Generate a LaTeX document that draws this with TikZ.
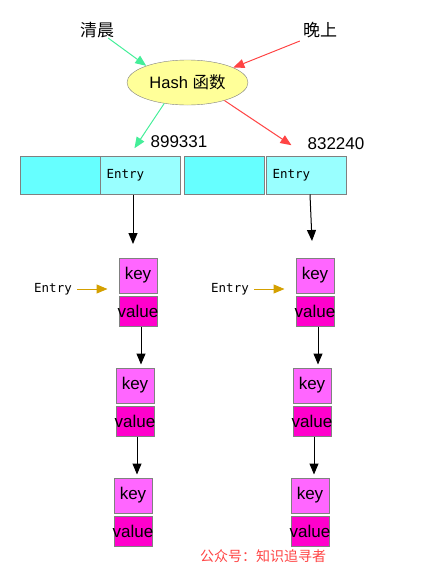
\documentclass[tikz,border=0pt]{standalone}
\usepackage{fontspec}
\setmainfont{Liberation Sans}
\setmonofont{DejaVu Sans Mono}
\newfontfamily\cjk{Noto Sans CJK SC}
\usetikzlibrary{shapes.geometric, arrows.meta, positioning}
\definecolor{slotcyan}{HTML}{66FFFF}
\definecolor{entrycyan}{HTML}{99FFFF}
\definecolor{keypink}{HTML}{FF66FF}
\definecolor{valuepink}{HTML}{FF00CC}
\definecolor{hashyellow}{HTML}{FFFF99}
\definecolor{morninggreen}{HTML}{44EE99}
\definecolor{nightred}{HTML}{FF4444}
\definecolor{entrygold}{HTML}{D4A000}
\tikzstyle{slot} = [rectangle, minimum width=80pt, minimum height=38pt, inner sep=0pt, draw=gray, line width=1pt, fill=slotcyan]
\tikzstyle{entryslot} = [slot, fill=entrycyan, text width=68pt, align=left, font=\ttfamily\fontsize{12.5}{12.5}\selectfont]
\tikzstyle{keybox} = [rectangle, minimum width=38pt, minimum height=35pt, inner sep=0pt, draw=gray, line width=1pt, fill=keypink, font=\fontsize{17}{17}\selectfont]
\tikzstyle{valuebox} = [keybox, minimum height=30pt, fill=valuepink]
\tikzstyle{hash} = [ellipse, minimum width=121pt, minimum height=45pt, inner sep=0pt, draw=gray, fill=hashyellow, font=\fontsize{16.5}{16.5}\selectfont]
\tikzstyle{word} = [inner sep=0pt, font=\cjk\fontsize{17}{17}\selectfont]
\tikzstyle{code} = [inner sep=0pt, font=\fontsize{17}{17}\selectfont]
\tikzstyle{label} = [inner sep=0pt, font=\ttfamily\fontsize{12.5}{12.5}\selectfont]
\tikzstyle{arrow} = [line width=1pt, ->, >={Triangle[length=11pt,width=9pt]}]
\newcommand{\valtext}{\makebox[0pt]{value}}

\begin{document}
\begin{tikzpicture}[x=1pt, y=-1pt, node distance=2pt]
	\useasboundingbox (0,0) rectangle (443,579);

	\node (morning) [word] at (97,30) {清晨};
	\node (night) [word] at (320,30) {晚上};
	\node (hashFn) [hash] at (187.5,82.5) {Hash {\cjk 函数}};

	\node (code1) [code] at (179,142) {899331};
	\node (code2) [code] at (336,144) {832240};

	\node (slot1) [slot] at (60,175) {};
	\node (slot2) [entryslot] at (140.5,175) {Entry};
	\node (slot3) [slot] at (224,175) {};
	\node (slot4) [entryslot] at (306.5,175) {Entry};

	\node (keyA1) [keybox] at (138,275.5) {key};
	\node (valA1) [valuebox, below=of keyA1] {\valtext};
	\node (keyA2) [keybox] at (135,385.5) {key};
	\node (valA2) [valuebox, below=of keyA2] {\valtext};
	\node (keyA3) [keybox] at (133,495.5) {key};
	\node (valA3) [valuebox, below=of keyA3] {\valtext};

	\node (keyB1) [keybox] at (315,275.5) {key};
	\node (valB1) [valuebox, below=of keyB1] {\valtext};
	\node (keyB2) [keybox] at (312,385.5) {key};
	\node (valB2) [valuebox, below=of keyB2] {\valtext};
	\node (keyB3) [keybox] at (310,495.5) {key};
	\node (valB3) [valuebox, below=of keyB3] {\valtext};

	\node (entryA) [label] at (53,289) {Entry};
	\node (entryB) [label] at (230,289) {Entry};

	\node (mark) [inner sep=0pt, text=nightred, font=\cjk\fontsize{14}{14}\selectfont] at (263,556) {公众号：知识追寻者};

	\coordinate (inA) at (133,244);
	\coordinate (inB) at (312,241);

	\draw [arrow, morninggreen] ([xshift=-6pt]morning.south east) -- (hashFn.158);
	\draw [arrow, nightred] ([xshift=-3pt, yshift=-3pt]night.south west) -- (hashFn.18);
	\draw [arrow, morninggreen] (hashFn.222) -- ([xshift=-16pt]code1.south west);
	\draw [arrow, nightred] (hashFn.334) -- ([xshift=-16pt, yshift=5pt]code2.south west);

	\draw [arrow] (slot2.south -| inA) -- (inA);
	\draw [arrow] ([xshift=3.5pt]slot4.south) -- (inB);

	\draw [arrow, entrygold] ([xshift=5pt]entryA.east) -- ([xshift=-11pt]keyA1.west |- entryA.east);
	\draw [arrow, entrygold] ([xshift=5pt]entryB.east) -- ([xshift=-11pt]keyB1.west |- entryB.east);

	\draw [arrow, shorten >=3pt] ([xshift=3pt]valA1.south) -- ([xshift=3pt]valA1.south |- keyA2.north);
	\draw [arrow, shorten >=3pt] ([xshift=2pt]valA2.south) -- ([xshift=2pt]valA2.south |- keyA3.north);
	\draw [arrow, shorten >=3pt] ([xshift=3pt]valB1.south) -- ([xshift=3pt]valB1.south |- keyB2.north);
	\draw [arrow, shorten >=3pt] ([xshift=2pt]valB2.south) -- ([xshift=2pt]valB2.south |- keyB3.north);

\end{tikzpicture}
\end{document}
